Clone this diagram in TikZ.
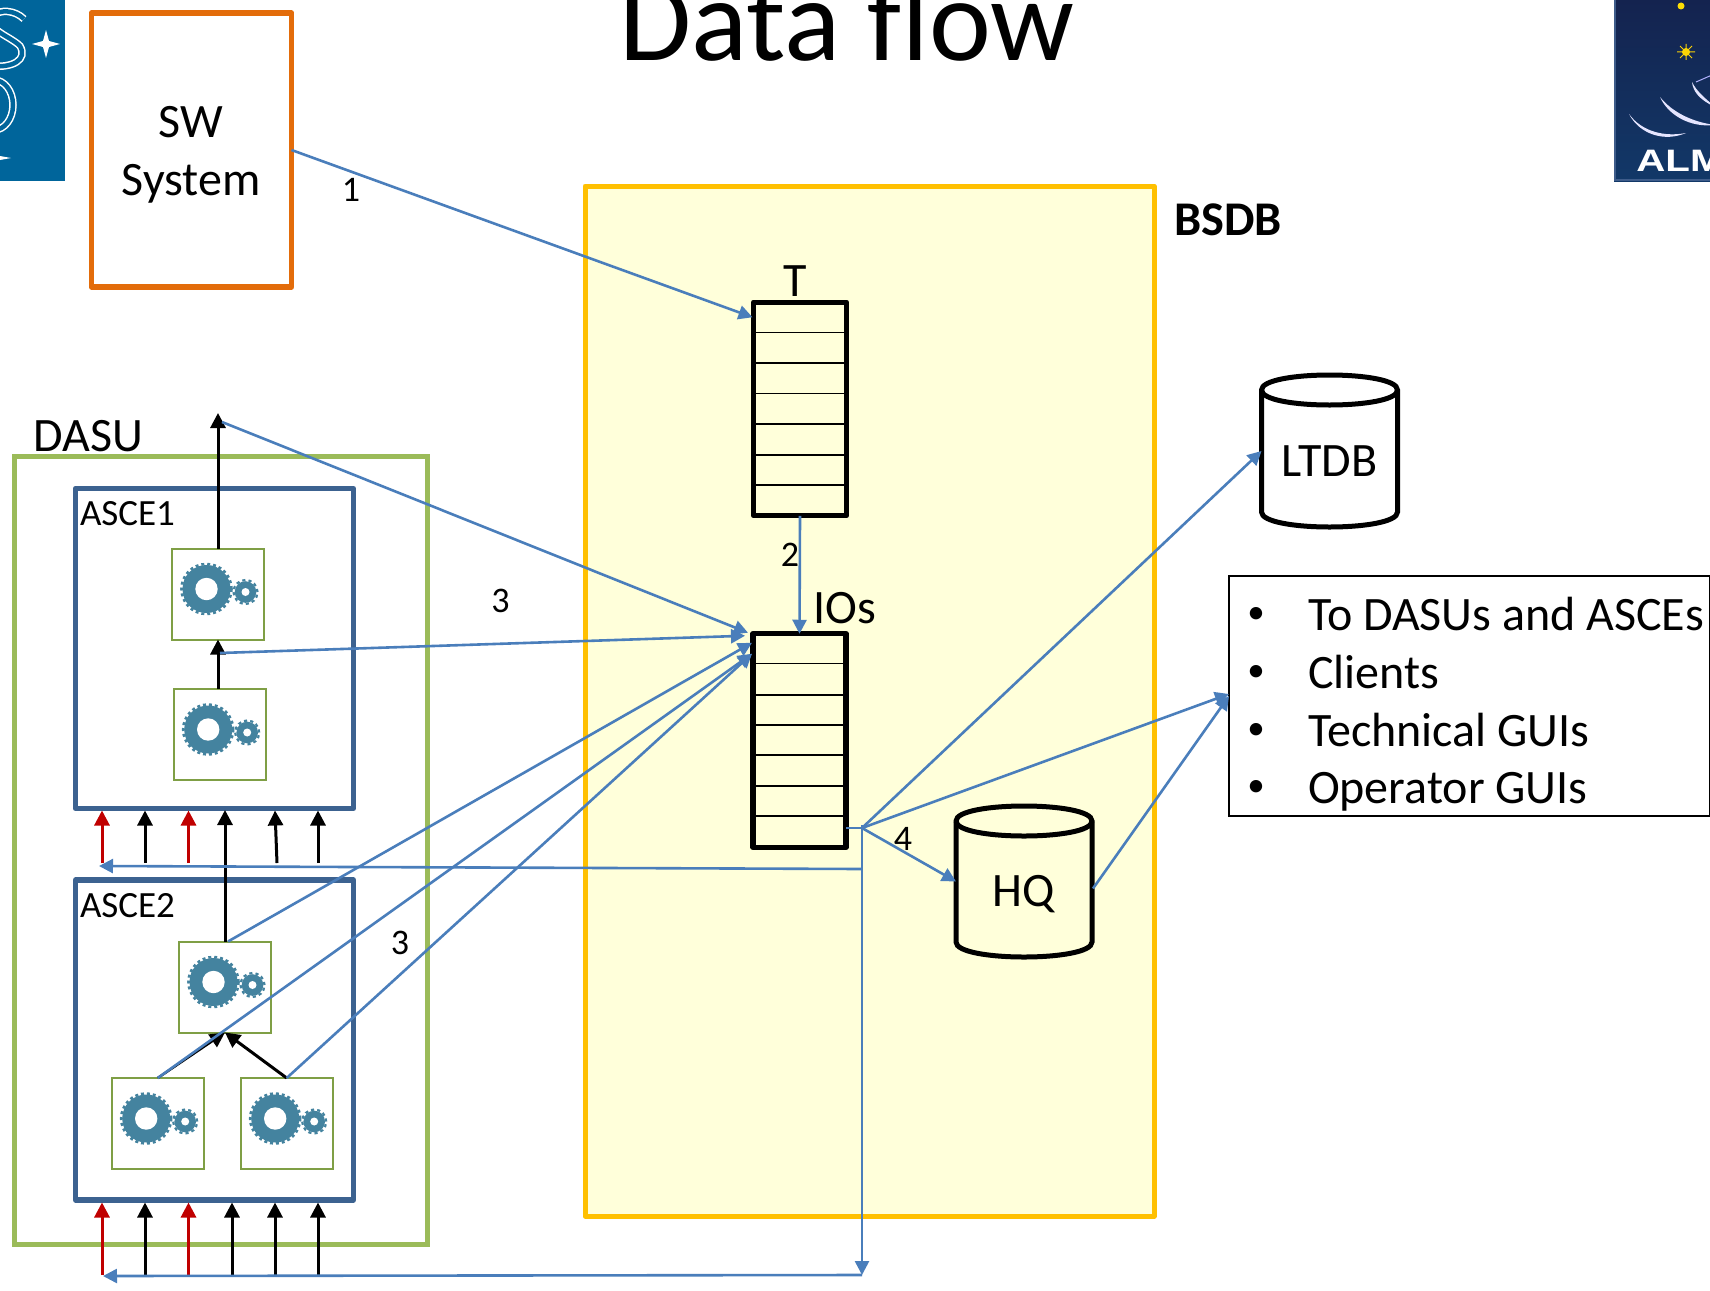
\documentclass[tikz,border=0pt]{standalone}
\usepackage{fontspec}
\setmainfont{Carlito}
\newfontfamily\logofont{Liberation Sans}
\usetikzlibrary{arrows.meta,calc}
\definecolor{blueln}{HTML}{4A7EBB}
\definecolor{asceblue}{HTML}{3C6290}
\definecolor{greenbox}{HTML}{9BBB59}
\definecolor{gearbd}{HTML}{7F9F45}
\definecolor{gearc}{HTML}{44839F}
\definecolor{orangebd}{HTML}{E36C0A}
\definecolor{yellowbd}{HTML}{FFC000}
\definecolor{yellowbg}{HTML}{FFFFDA}
\definecolor{redarr}{HTML}{C00000}
\definecolor{esoblue}{HTML}{00659B}
\definecolor{almatop}{HTML}{14234F}
\definecolor{almabot}{HTML}{123868}
\definecolor{almabd}{HTML}{3E5C8A}
\newcommand{\fs}[1]{\fontsize{#1}{#1}\selectfont}
\tikzset{
  box/.style={draw,inner sep=0pt,outer sep=0pt},
  lbl/.style={inner sep=0pt,outer sep=0pt,anchor=base,font=\fs{48}},
  lbll/.style={inner sep=0pt,outer sep=0pt,anchor=base west,font=\fs{48}},
  bult/.style={inner sep=0pt,outer sep=0pt,anchor=base,font=\fs{35}},
  num/.style={inner sep=0pt,outer sep=0pt,anchor=base,font=\fs{36}},
  smalll/.style={inner sep=0pt,outer sep=0pt,anchor=base west,font=\fs{37}},
  tbl/.style={box,line width=5.4pt,minimum width=93pt,minimum height=213.5pt,line join=round},
  gearbox/.style={box,draw=gearbd,line width=2pt,fill=white,minimum width=92pt,minimum height=91pt},
  asce/.style={box,draw=asceblue,line width=5.2pt,fill=white,minimum width=278pt,line join=round},
  db/.style={inner sep=0pt,outer sep=0pt,minimum width=#1},
  bluearr/.style={draw=blueln,line width=2.6pt,-{Triangle[length=14pt,width=14pt]}},
  blueline/.style={draw=blueln,line width=2.6pt},
  blackarr/.style={draw=black,line width=3pt,-{Triangle[length=15pt,width=15pt]}},
  redarrow/.style={draw=redarr,line width=3pt,-{Triangle[length=15pt,width=15pt]}},
}
% gear icon inside a named box
\newcommand{\geartwo}[1]{%
  \begin{scope}[shift={(#1.center)}]
    \fill[gearc] (-11.5,-5) circle (24pt);
    \draw[gearc,line width=2.6pt,dash pattern=on 2.96pt off 2.96pt] (-11.5,-5) circle (25pt);
    \fill[white] (-11.5,-5) circle (11.2pt);
    \fill[gearc] (27.5,-2) circle (10.8pt);
    \draw[gearc,line width=2.2pt,dash pattern=on 3.14pt off 3.14pt] (27.5,-2) circle (12pt);
    \fill[white] (27.5,-2) circle (4pt);
  \end{scope}}
\newcommand{\gearnode}[3]{\node[gearbox] (#1) at (#2,#3) {}; \geartwo{#1}}
% database cylinder drawn round a named node
\newcommand{\cyl}[5]{% name, xc, top, bottom, fill
  \path[draw=black,fill=#5,line width=5pt]
    ({#2-68},{#3+15}) .. controls ({#2-68},{#3-5}) and ({#2+68},{#3-5}) .. ({#2+68},{#3+15})
    -- ({#2+68},{#4-15}) .. controls ({#2+68},{#4+5}) and ({#2-68},{#4+5}) .. ({#2-68},{#4-15}) -- cycle;
  \draw[black,line width=5pt]
    ({#2-68},{#3+15}) .. controls ({#2-68},{#3+35}) and ({#2+68},{#3+35}) .. ({#2+68},{#3+15});
  \node[db=136pt,minimum height=#4pt-#3pt] (#1) at (#2,{(#3+#4)/2}) {};
}
\begin{document}
\begin{tikzpicture}[x=1pt,y=-1pt]
\useasboundingbox (0,0) rectangle (1710,1290);
\fill[white] (0,0) rectangle (1710,1290);
% ESO logo
\begin{scope}
  \clip (0,0) rectangle (65,181);
  \fill[esoblue] (0,0) rectangle (65,181);
  \draw[white,line width=1.5pt,double=esoblue,double distance=4.5pt]
    (24,19) .. controls (15,10) and (0,9) .. (-8,16)
    .. controls (-14,30) and (10,36) .. (20,46)
    .. controls (28,60) and (12,68) .. (-8,66);
  \draw[white,line width=1.5pt,double=esoblue,double distance=4.5pt] (-6,105) ellipse (19pt and 25pt);
  \fill[white] (46,30) -- (49,41) -- (60,44) -- (49,47) -- (46,58) -- (43,47) -- (32,44) -- (43,41) -- cycle;
  \fill[white] (-3,150) -- (0,156) -- (11,158) -- (0,160) -- (-3,168) -- (-6,160) -- (-12,158) -- (-6,156) -- cycle;
\end{scope}
% ALMA logo
\begin{scope}
  \clip (1614,0) rectangle (1710,181);
  \shade[top color=almatop,bottom color=almabot] (1614,0) rectangle (1710,181);
  \draw[almabd,line width=2.5pt] (1615,0) -- (1615,180) -- (1710,180);
  \fill[yellow!80!orange] (1681,6) circle (3.5pt);
  \fill[yellow!80!orange] (1686,52) circle (4pt);
  \draw[yellow!70!orange,line width=1pt] (1677,52) -- (1695,52) (1686,44) -- (1686,60) (1680,46) -- (1692,58) (1692,46) -- (1680,58);
  \fill[white!90!blue] (1629,114) .. controls (1640,135) and (1665,142) .. (1686,133) .. controls (1665,137) and (1642,132) .. cycle;
  \fill[white!90!blue] (1660,97) .. controls (1668,115) and (1690,128) .. (1715,125) .. controls (1692,122) and (1672,112) .. cycle;
  \fill[white!90!blue] (1692,82) .. controls (1693,92) and (1700,100) .. (1715,107) .. controls (1705,98) and (1697,92) .. cycle;
  \draw[white!70!blue,line width=1pt] (1696,82) -- (1712,75);
  \node[inner sep=0pt,anchor=base west,text=white,xscale=1.3] (almatxt) at (1636,171) {\logofont\bfseries\fs{31}ALMA};
\end{scope}
% title
\node[inner sep=0pt,anchor=base,font=\fs{117.3}] (title) at (847,60) {Data flow};
% BSDB
\node[box,draw=yellowbd,fill=yellowbg,line width=5pt,minimum width=569pt,minimum height=1030pt,line join=round] (bsdb) at (869.5,701) {};
\node[lbll,font=\fs{48.4}\bfseries] (bsdblbl) at (1174,235) {BSDB};
% SW
\node[box,draw=orangebd,line width=5.6pt,fill=white,minimum width=200pt,minimum height=274pt,line join=round] (sw) at (191.5,150) {};
\node[lbl] (swa) at (191,137) {SW};
\node[lbl] (swb) at (191,195) {System};
% tables
\node[tbl] (tt) at (800,409) {};
\foreach \y in {332.5,363,393.5,424,455,485} \draw[line width=1.8pt] (tt.west |- 0,\y) -- (tt.east |- 0,\y);
\node[lbl] (ttl) at (795,296) {T};
\node[tbl] (io) at (799.5,740.5) {};
\foreach \y in {663.5,695,725,755,786,816} \draw[line width=1.8pt] (io.west |- 0,\y) -- (io.east |- 0,\y);
\node[lbll] (iol) at (813.5,623) {IOs};
% databases
\cyl{ltdb}{1329.5}{375}{527}{white}
\node[lbl] (ltdbl) at (1329.5,476) {LTDB};
\cyl{hq}{1024}{806}{957}{yellowbg}
\node[lbl] (hql) at (1024,906) {HQ};
% list
\node[box,line width=1.8pt,fill=white,minimum width=481pt,minimum height=240pt] (lst) at (1469.5,696) {};
\foreach \n/\y/\t in {a/630/To DASUs and ASCEs,b/688/Clients,c/746/Technical GUIs,d/803/Operator GUIs}{
  \node[bult] (bul\n) at (1256,\y-6.5) {•};
  \node[lbll] (itm\n) at (1308,\y) {\t};
}
% DASU
\node[box,draw=greenbox,line width=5pt,minimum width=413pt,minimum height=788pt] (dasu) at (220.5,850) {};
\node[lbll] (dasul) at (33.5,451) {DASU};
\node[asce,minimum height=320pt] (asce1) at (214.5,648.5) {};
\node[asce,minimum height=320pt] (asce2) at (214.5,1040) {};
\node[smalll] (a1l) at (80,525) {ASCE1};
\node[smalll] (a2l) at (80,917) {ASCE2};
\gearnode{a1t}{218}{594}
\gearnode{a1b}{219.7}{734.5}
\gearnode{a2t}{225}{987}
\gearnode{a2l}{157.7}{1123.5}
\gearnode{a2r}{286.7}{1123.5}
% named free ends
\coordinate (dasuout) at (218,413);
\coordinate (a1mid) at (220,653);
\coordinate (j) at (862,828);
\coordinate (jb) at (862,1275);
\coordinate (jm) at (862,869);
\coordinate (ret1) at (99,866);
\coordinate (ret2) at (103,1276);
% black arrows
\draw[blackarr] (a1t.north -| dasuout) -- (dasuout);
\draw[blackarr] (a1b.north -| dasuout) -- (a1t.south -| dasuout);
\draw[blackarr] (a2t.north) -- (a2t.north |- 0,810);
\draw[blackarr,line width=2.4pt] (a2l.north) -- (a2t.south);
\draw[blackarr] (a2r.north) -- (a2t.south);
% inputs
\foreach \k/\x/\s in {1/102/redarrow,2/145/blackarr,3/188.5/redarrow,4/318/blackarr}{
  \coordinate (ia\k) at (\x,863);
  \draw[\s] (ia\k) -- (\x,810.5);
}
\coordinate (ia5) at (277,863);
\draw[blackarr] (ia5) -- (275,810.5);
\foreach \k/\x/\s in {1/102/redarrow,2/145/blackarr,3/188.5/redarrow,4/232/blackarr,5/275/blackarr,6/318/blackarr}{
  \coordinate (ib\k) at (\x,1275);
  \draw[\s] (ib\k) -- (\x,1202.5);
}
% blue arrows
\draw[bluearr] (sw.east) -- ([xshift=-1pt,yshift=-15pt]tt.north west);
\draw[bluearr] (tt.south) -- (io.north);
\draw[bluearr] ([xshift=4pt,yshift=-9pt]dasuout) -- ([xshift=-5pt,yshift=1pt]io.north west);
\draw[bluearr] (a1mid) -- ([xshift=-8pt,yshift=-2pt]io.north west);
\draw[bluearr] ([xshift=3pt]a2t.north) -- ([xshift=-1pt,yshift=-9pt]io.north west);
\draw[bluearr] (a2l.north) -- ([xshift=-1pt,yshift=-20pt]io.north west);
\draw[bluearr] (a2r.north) -- ([xshift=-1pt,yshift=-20pt]io.north west);
\draw[blueline] (io.east |- j) -- (j);
\draw[bluearr] ([yshift=3pt]j) -- (jb);
\draw[bluearr] (jm) -- (ret1);
\draw[bluearr] (jb) -- (ret2);
\draw[bluearr] (j) -- (ltdb.west);
\draw[bluearr] (j) -- ([yshift=2pt]lst.west);
\draw[bluearr] (j) -- (hq.west);
\draw[bluearr] ([xshift=1pt,yshift=-7pt]hq.east) -- (lst.west);
% numbers
\node[num] (n1) at (351,201) {1};
\node[num] (n2) at (790,566) {2};
\node[num] (n3a) at (500.5,612) {3};
\node[num] (n3b) at (400,954) {3};
\node[num] (n4) at (903,850) {4};
\end{tikzpicture}
\end{document}
